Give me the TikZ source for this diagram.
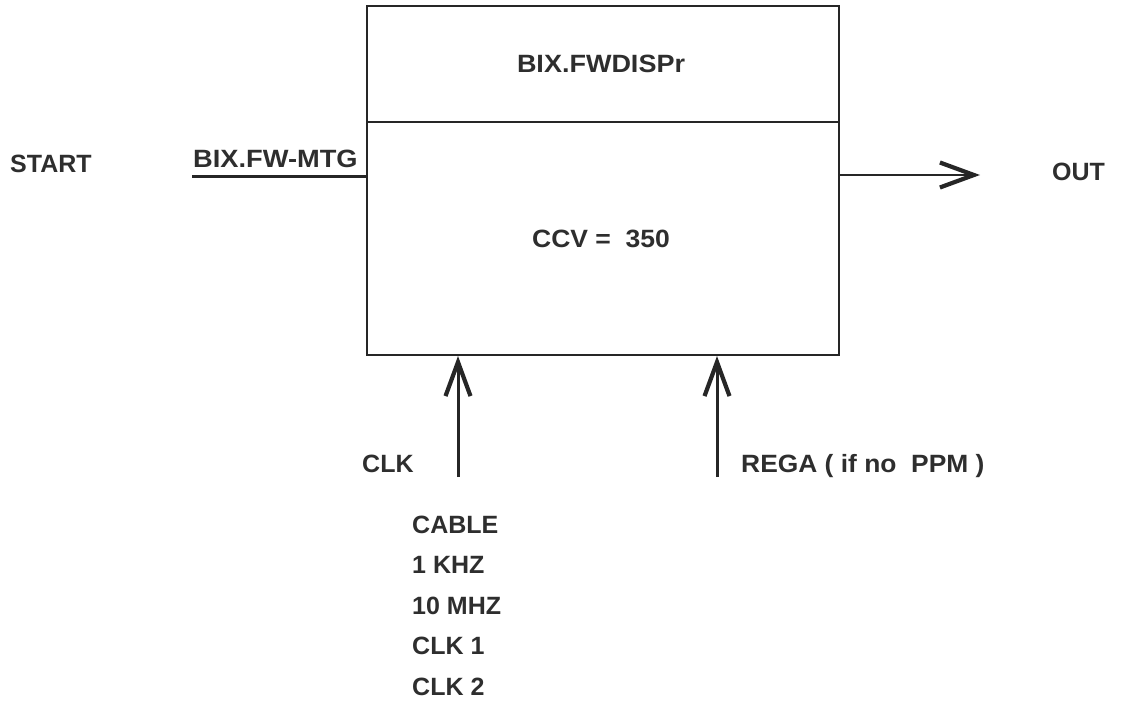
\documentclass[tikz,border=0pt]{standalone}
\usepackage{fontspec}
\usepackage{graphicx}
\setmainfont{Liberation Sans}
\usetikzlibrary{arrows.meta}
\tikzset{
  lbl/.style={font=\fontsize{25}{29}\selectfont\bfseries, inner sep=0pt, text=black!82},
  boxline/.style={line width=1.4pt, draw=black!85},
  sig/.style={line width=3pt, draw=black!85},
  sigarrow/.style={sig, -{Straight Barb[length=34pt,width=25pt,line width=4.2pt]}},
}
\begin{document}
\begin{tikzpicture}[x=1pt,y=-1pt]
\useasboundingbox (0,0) rectangle (1121,701);
% box
\coordinate (tl) at (367,6);
\coordinate (br) at (839,355);
\draw[boxline] (tl) rectangle (br);
\coordinate (dl) at (367,122);
\coordinate (dr) at (839,122);
\draw[boxline] (dl) -- (dr);
\node[lbl, anchor=base] (title) at (601,73) {\scalebox{1.08}[1]{BIX.FWDISPr}};
\node[lbl, anchor=base] (ccv) at (601,247) {\scalebox{1.06}[1]{CCV =\ \ 350}};
% input
\coordinate (inA) at (192,176);
\coordinate (inB) at (367,176);
\draw[sig] (inA) -- (inB);
\node[lbl, anchor=base west] (inlbl) at (193,167) {\scalebox{1.09}[1]{BIX.FW-MTG}};
\node[lbl, anchor=base west] (start) at (10,172) {START};
% output
\coordinate (outA) at (839,175);
\coordinate (outB) at (980,175);
\draw[sigarrow, line width=2.5pt] (outA) -- (outB);
\node[lbl, anchor=base west] (out) at (1052,180) {OUT};
% clk arrow
\coordinate (clkA) at (458,477);
\coordinate (clkB) at (458,356);
\draw[sigarrow] (clkA) -- (clkB);
\node[lbl, anchor=base west] (clk) at (362,472) {CLK};
% rega arrow
\coordinate (regA) at (717,477);
\coordinate (regB) at (717,356);
\draw[sigarrow] (regA) -- (regB);
\node[lbl, anchor=base west] (rega) at (741,472) {\scalebox{1.055}[1]{REGA ( if no\ \ PPM )}};
% list
\node[lbl, anchor=base west] (l1) at (412,533) {CABLE};
\node[lbl, anchor=base west] (l2) at (412,573) {1 KHZ};
\node[lbl, anchor=base west] (l3) at (412,614) {10 MHZ};
\node[lbl, anchor=base west] (l4) at (412,654) {CLK 1};
\node[lbl, anchor=base west] (l5) at (412,695) {CLK 2};
\end{tikzpicture}
\end{document}
